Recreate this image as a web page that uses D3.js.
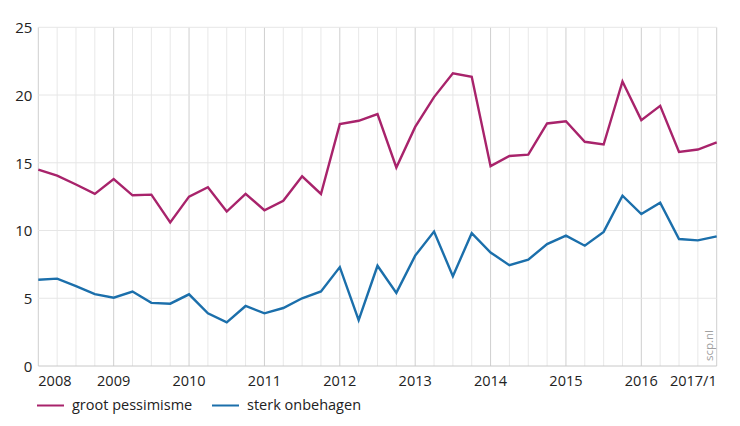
<!doctype html>
<html lang="nl">
<head>
  <meta charset="utf-8">
  <title>Pessimisme en onbehagen</title>
  <style>
    html, body { margin: 0; padding: 0; background: #fff; }
    body { font-family: 'Open Sans', 'Noto Sans', sans-serif; color: #222; }
    svg text { fill: #222; }
  </style>
</head>
<body>
  <div id="chart"></div>
  <script src="https://d3js.org/d3.v7.min.js"></script>
  <script>
    // quarters 2008/1 .. 2017/1
    const quarters = [
      "2008/1","2008/2","2008/3","2008/4","2009/1","2009/2","2009/3","2009/4",
      "2010/1","2010/2","2010/3","2010/4","2011/1","2011/2","2011/3","2011/4",
      "2012/1","2012/2","2012/3","2012/4","2013/1","2013/2","2013/3","2013/4",
      "2014/1","2014/2","2014/3","2014/4","2015/1","2015/2","2015/3","2015/4",
      "2016/1","2016/2","2016/3","2016/4","2017/1"
    ];
    const grootPessimisme = [
      14.5, 14.05, 13.4, 12.7, 13.8, 12.6, 12.65, 10.6,
      12.5, 13.2, 11.4, 12.7, 11.5, 12.2, 14.0, 12.7,
      17.85, 18.1, 18.6, 14.65, 17.65, 19.85, 21.6, 21.35,
      14.75, 15.5, 15.6, 17.9, 18.07, 16.55, 16.35, 21.0,
      18.15, 19.2, 15.8, 15.98, 16.5
    ];
    const sterkOnbehagen = [
      6.37, 6.45, 5.9, 5.3, 5.04, 5.5, 4.66, 4.6,
      5.29, 3.89, 3.22, 4.43, 3.89, 4.28, 5.0, 5.5,
      7.3, 3.39, 7.4, 5.4, 8.15, 9.92, 6.63, 9.8,
      8.38, 7.44, 7.85, 9.0, 9.62, 8.88, 9.9, 12.57,
      11.22, 12.05, 9.37, 9.27, 9.57
    ];
    const yTicks = [0, 5, 10, 15, 20, 25];
    const xTickLabels = ["2008","2009","2010","2011","2012","2013","2014","2015","2016","2017/1"];
    const xTickIndex = [0, 4, 8, 12, 16, 20, 24, 28, 32, 36];
    const seriesNames = ["groot pessimisme", "sterk onbehagen"];
    const seriesColors = ["#a8236b", "#1b6fab"];

    const W = 740, H = 426;
    const mLeft = 38.3, mRight = 716.7, mTop = 27.3, mBottom = 366;

    const svg = d3.select("#chart").append("svg")
      .attr("width", W).attr("height", H)
      .attr("viewBox", `0 0 ${W} ${H}`);

    const x = d3.scaleLinear().domain([0, quarters.length - 1]).range([mLeft, mRight]);
    const y = d3.scaleLinear().domain([0, 25]).range([mBottom, mTop]);

    // vertical grid per quarter, darker at year start
    svg.append("g").selectAll("line")
      .data(quarters)
      .join("line")
      .attr("x1", (d, i) => x(i)).attr("x2", (d, i) => x(i))
      .attr("y1", mTop).attr("y2", mBottom)
      .attr("stroke", (d, i) => i % 4 === 0 ? "#cfcfcf" : "#e8e8e8")
      .attr("stroke-width", 1);

    // horizontal grid
    svg.append("g").selectAll("line")
      .data(yTicks)
      .join("line")
      .attr("x1", mLeft).attr("x2", mRight)
      .attr("y1", d => y(d)).attr("y2", d => y(d))
      .attr("stroke", d => d === 0 ? "#c8c8c8" : "#e6e6e6")
      .attr("stroke-width", 1);

    // y axis labels
    const yAxis = d3.axisLeft(y).tickValues(yTicks).tickSize(0).tickPadding(0);
    const gy = svg.append("g").attr("transform", `translate(${mLeft - 6},0)`).call(yAxis);
    gy.select(".domain").remove();
    gy.selectAll("text")
      .attr("font-family", "'Open Sans', 'Noto Sans', sans-serif")
      .attr("font-size", 15).attr("fill", "#222")
      .attr("dy", "0.36em");

    // x axis labels
    svg.append("g").selectAll("text")
      .data(xTickLabels)
      .join("text")
      .attr("x", (d, i) => x(xTickIndex[i]))
      .attr("y", 386)
      .attr("text-anchor", (d, i) => i === 0 ? "start" : (i === xTickLabels.length - 1 ? "end" : "middle"))
      .attr("font-size", 14.5)
      .text(d => d);

    // lines
    const line = d3.line().x((d, i) => x(i)).y(d => y(d));
    [grootPessimisme, sterkOnbehagen].forEach((s, k) => {
      svg.append("path")
        .datum(s)
        .attr("d", line)
        .attr("fill", "none")
        .attr("stroke", seriesColors[k])
        .attr("stroke-width", 2.4)
        .attr("stroke-linejoin", "miter");
    });

    // source mark
    svg.append("text")
      .attr("transform", `translate(713,361) rotate(-90)`)
      .attr("font-size", 11.5)
      .style("fill", "#a0a0a0")
      .text("scp.nl");

    // legend
    const legendX = [37, 212];
    const lg = svg.append("g").selectAll("g")
      .data(seriesNames)
      .join("g")
      .attr("transform", (d, i) => `translate(${legendX[i]},405.5)`);
    lg.append("line")
      .attr("x1", 0).attr("x2", 27)
      .attr("stroke", (d, i) => seriesColors[i])
      .attr("stroke-width", 2);
    lg.append("text")
      .attr("x", 35).attr("y", 0).attr("dy", "0.32em")
      .attr("font-size", 14.5)
      .text(d => d);
  </script>
</body>
</html>
